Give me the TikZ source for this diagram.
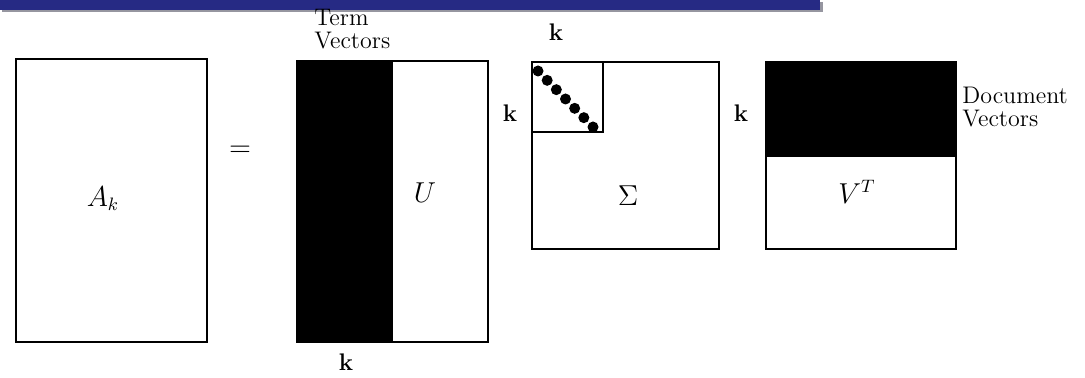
\documentclass[tikz,border=0pt]{standalone}
\usepackage{amsmath, amssymb}
\usepackage{xcolor}
\definecolor{barblue}{RGB}{38,42,132}
\definecolor{barshade}{RGB}{150,150,160}

\begin{document}
\begin{tikzpicture}[
  x=0.5pt, y=-0.5pt,
  matbox/.style={draw=black, line width=1pt},
  block/.style={fill=black},
  dot/.style={fill=black},
  dimlabel/.style={font=\bfseries\fontsize{12}{14}\selectfont},
  caption/.style={align=left, inner sep=0pt, font=\fontsize{12}{11.5}\selectfont},
  mathlabel/.style={font=\fontsize{13.5}{15}\selectfont}
]
\useasboundingbox (0,0) rectangle (1085,378);

% title bar
\fill[barshade] (2,2) rectangle (823,12);
\fill[barblue] (0,0) rectangle (820,10);

% A_k
\draw[matbox] (16,59) rectangle (207,342);
\node[mathlabel] (alabel) at (103,199) {$A_k$};
\node[mathlabel] (eq) at (240,151) {$=$};

% U with term vectors
\fill[block] (297,61) rectangle (393,342);
\draw[matbox] (297,61) rectangle (488,342);
\node[mathlabel] (ulabel) at (425,193) {$U$};
\node[caption, anchor=west] (termvec) at (314,29) {Term\\Vectors};
\node[dimlabel] (ku) at (346,362) {k};

% Sigma
\draw[matbox] (532,62) rectangle (719,249);
\draw[matbox] (532,62) rectangle (603,132);
\foreach \i in {0,...,6}
  \fill[dot] ({538+\i*55/6},{71+\i*56/6}) circle (5.5);
\node[mathlabel] (slabel) at (628,196) {$\Sigma$};
\node[dimlabel] (ktop) at (556,32) {k};
\node[dimlabel] (kleft) at (510,113) {k};

% V^T with document vectors
\fill[block] (766,62) rectangle (956,157);
\draw[matbox] (766,62) rectangle (956,249);
\node[mathlabel] (vlabel) at (857,192) {$V^T$};
\node[dimlabel] (kmid) at (741,113) {k};
\node[caption, anchor=west] (docvec) at (962,107) {Document\\Vectors};

\end{tikzpicture}
\end{document}
